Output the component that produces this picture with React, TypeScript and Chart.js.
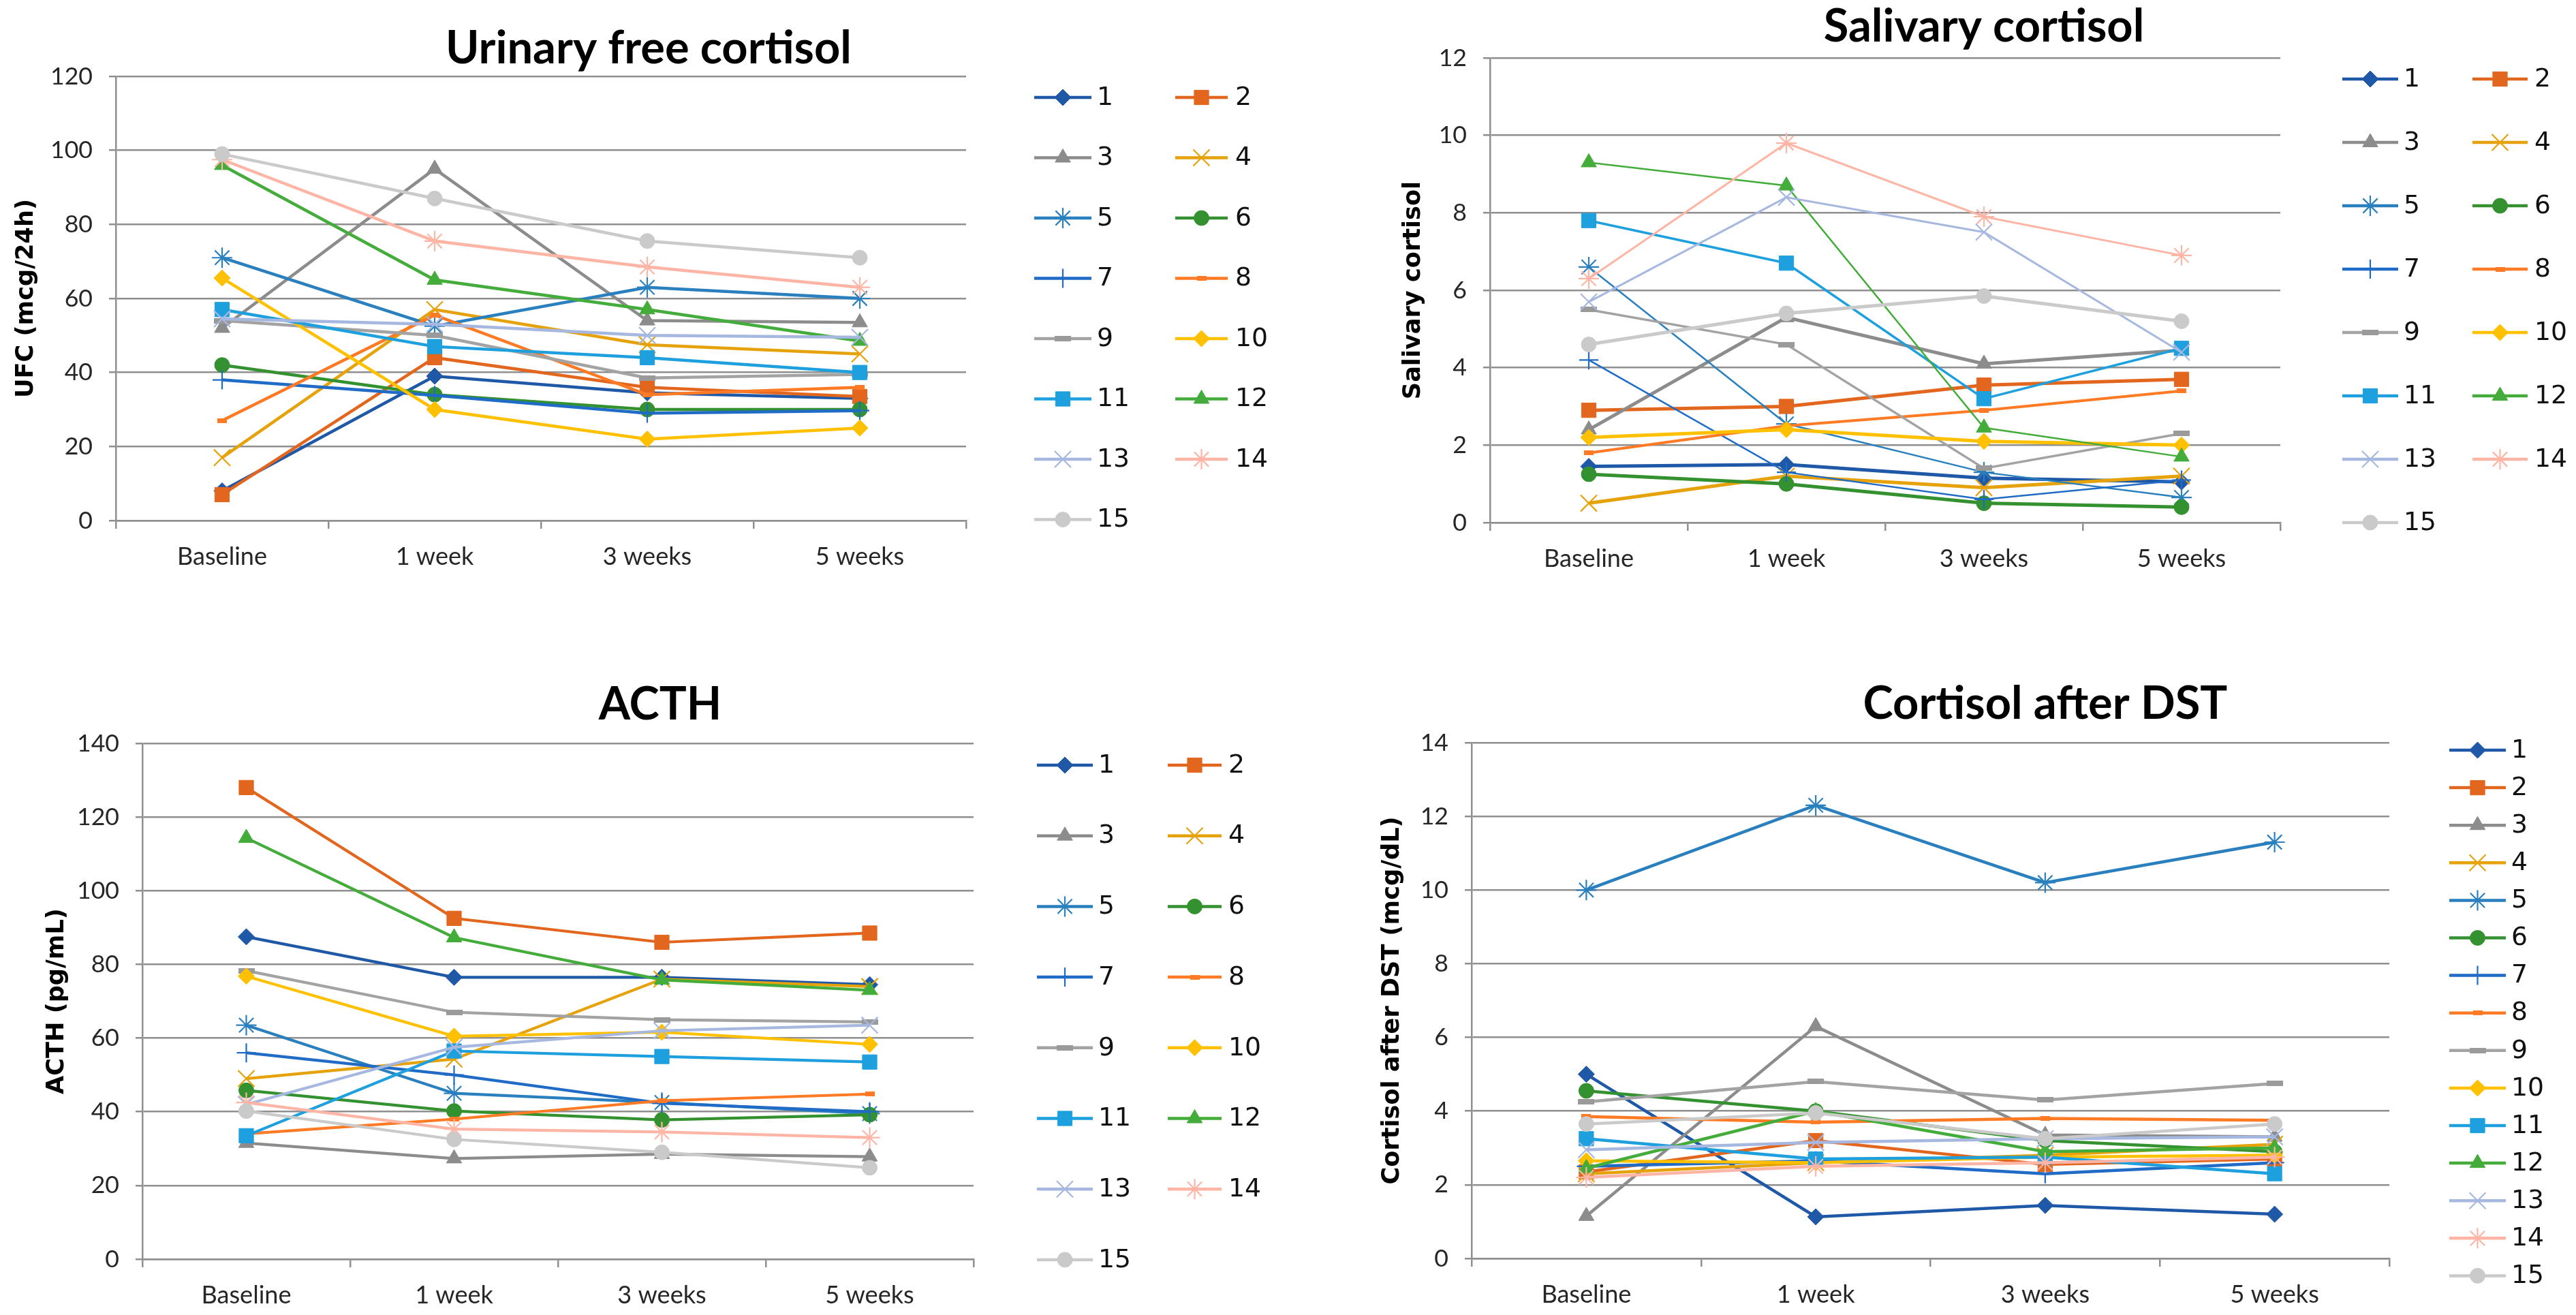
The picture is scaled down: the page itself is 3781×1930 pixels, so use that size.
import React, { useEffect, useRef } from 'react';
import { Chart, registerables } from 'chart.js';
import { drawPoint } from 'chart.js/helpers';

Chart.register(...registerables);

// ---------------- data ----------------
const categories = ['Baseline', '1 week', '3 weeks', '5 weeks'];
const patients = ['1', '2', '3', '4', '5', '6', '7', '8', '9', '10', '11', '12', '13', '14', '15'];

// Urinary free cortisol (mcg/24h), one row per patient
const ufcValues: number[][] = [
  [8, 39, 34.5, 33],
  [7, 44, 36, 33.5],
  [52, 95, 54, 53.5],
  [17, 57, 47.5, 45],
  [71, 52.5, 63, 60],
  [42, 34, 30, 30],
  [38, 33.8, 29, 29.7],
  [27, 55.5, 34, 36],
  [54, 50, 38.5, 39.5],
  [65.5, 30, 22, 25],
  [57, 47, 44, 40],
  [96, 65, 57, 48.5],
  [54.5, 53, 50, 49.5],
  [97.5, 75.5, 68.5, 63],
  [99, 87, 75.5, 71],
];

// Salivary cortisol
const salivaryValues: number[][] = [
  [1.45, 1.5, 1.15, 1.05],
  [2.9, 3.0, 3.55, 3.7],
  [2.4, 5.3, 4.1, 4.45],
  [0.5, 1.2, 0.9, 1.2],
  [6.6, 2.55, 1.3, 0.65],
  [1.25, 1.0, 0.5, 0.4],
  [4.2, 1.3, 0.6, 1.1],
  [1.8, 2.5, 2.9, 3.4],
  [5.5, 4.6, 1.4, 2.3],
  [2.2, 2.4, 2.1, 2.0],
  [7.8, 6.7, 3.2, 4.5],
  [9.3, 8.7, 2.45, 1.7],
  [5.7, 8.4, 7.5, 4.4],
  [6.3, 9.8, 7.9, 6.9],
  [4.6, 5.4, 5.85, 5.2],
];

// ACTH (pg/mL)
const acthValues: number[][] = [
  [87.5, 76.5, 76.5, 74.5],
  [128, 92.5, 86, 88.5],
  [31.5, 27.3, 28.5, 27.8],
  [49, 54.3, 76, 74],
  [63.5, 45, 42.5, 39.5],
  [45.8, 40.2, 37.8, 39.2],
  [56, 50, 42.3, 40],
  [34, 38, 43, 44.8],
  [78.3, 67, 65, 64.4],
  [76.8, 60.5, 61.6, 58.3],
  [33.5, 56.5, 55, 53.5],
  [114.3, 87.3, 75.8, 73],
  [42, 57.5, 62, 63.5],
  [42.5, 35.3, 34.5, 33],
  [40.2, 32.5, 29, 24.8],
];

// Cortisol after DST (mcg/dL)
const dstValues: number[][] = [
  [5.0, 1.13, 1.44, 1.2],
  [2.35, 3.2, 2.55, 2.7],
  [1.15, 6.3, 3.35, 3.3],
  [2.3, 2.6, 2.8, 3.1],
  [10.0, 12.3, 10.2, 11.3],
  [4.55, 4.0, 3.2, 2.9],
  [2.5, 2.65, 2.3, 2.6],
  [3.85, 3.7, 3.8, 3.75],
  [4.25, 4.8, 4.3, 4.75],
  [2.65, 2.6, 2.75, 2.8],
  [3.25, 2.7, 2.75, 2.3],
  [2.45, 4.0, 2.9, 3.0],
  [2.95, 3.15, 3.25, 3.3],
  [2.2, 2.5, 2.6, 2.75],
  [3.65, 3.95, 3.25, 3.65],
];

const ufcTicks = [0, 20, 40, 60, 80, 100, 120];
const salivaryTicks = [0, 2, 4, 6, 8, 10, 12];
const acthTicks = [0, 20, 40, 60, 80, 100, 120, 140];
const dstTicks = [0, 2, 4, 6, 8, 10, 12, 14];

// ---------------- styles ----------------
const seriesColors = [
  '#1E58A6', '#E2661E', '#8C8C8C', '#E6A20A', '#2A80BF',
  '#34912F', '#1F6BC6', '#FF7A24', '#A3A3A3', '#FFC000',
  '#1EA0DE', '#43AC3A', '#A6B7E0', '#FFB5A5', '#CACACA',
];
const markerKinds = [
  'rectRot', 'rect', 'triangle', 'crossRot', 'star',
  'circle', 'cross', 'dashS', 'dash', 'rectRot',
  'rect', 'triangle', 'crossRot', 'star', 'circle',
];
const markerRadius: Record<string, number> = {
  rectRot: 12, rect: 15, triangle: 13, crossRot: 17, star: 15, circle: 11, cross: 14, dash: 1, dashS: 1,
};
const salivaryWidths = [5, 5, 5, 5, 2.5, 5, 2.5, 4, 3.5, 5, 3.5, 2.5, 3, 3, 5];

const GRID = '#8f8f8f';
const TICK_COLOR = '#262626';

type Spec = {
  title: string;
  yTitle: string;
  values: number[][];
  ticks: number[];
  quad: { x: number; y: number; w: number; h: number };
  area: { l: number; t: number; r: number; b: number }; // page coords
  titleCx: number;
  titleBase: number;
  yTitleX: number;
  legend: { cols: { x1: number; x2: number; tx: number }[]; y0: number; step: number };
  widths: number[];
};

const specs: Spec[] = [
  {
    title: 'Urinary free cortisol',
    yTitle: 'UFC (mcg/24h)',
    values: ufcValues,
    ticks: ufcTicks,
    quad: { x: 0, y: 0, w: 1900, h: 960 },
    area: { l: 170, t: 112, r: 1418, b: 764 },
    titleCx: 952,
    titleBase: 93,
    yTitleX: 39,
    legend: { cols: [{ x1: 1518, x2: 1602, tx: 1610 }, { x1: 1725, x2: 1802, tx: 1813 }], y0: 143, step: 88.5 },
    widths: patients.map(() => 4.5),
  },
  {
    title: 'Salivary cortisol',
    yTitle: 'Salivary cortisol',
    values: salivaryValues,
    ticks: salivaryTicks,
    quad: { x: 1900, y: 0, w: 1881, h: 960 },
    area: { l: 2187, t: 85, r: 3347, b: 767 },
    titleCx: 2912,
    titleBase: 61,
    yTitleX: 2075,
    legend: { cols: [{ x1: 3438, x2: 3520, tx: 3528 }, { x1: 3629, x2: 3710, tx: 3720 }], y0: 116, step: 93 },
    widths: salivaryWidths,
  },
  {
    title: 'ACTH',
    yTitle: 'ACTH (pg/mL)',
    values: acthValues,
    ticks: acthTicks,
    quad: { x: 0, y: 960, w: 1900, h: 970 },
    area: { l: 209, t: 1091, r: 1429, b: 1848 },
    titleCx: 969,
    titleBase: 1056,
    yTitleX: 84,
    legend: { cols: [{ x1: 1522, x2: 1604, tx: 1612 }, { x1: 1714, x2: 1793, tx: 1803 }], y0: 1123, step: 103.7 },
    widths: patients.map(() => 4.2),
  },
  {
    title: 'Cortisol after DST',
    yTitle: 'Cortisol after DST (mcg/dL)',
    values: dstValues,
    ticks: dstTicks,
    quad: { x: 1900, y: 960, w: 1881, h: 970 },
    area: { l: 2160, t: 1090, r: 3507, b: 1847 },
    titleCx: 3002,
    titleBase: 1055,
    yTitleX: 2044,
    legend: { cols: [{ x1: 3595, x2: 3678, tx: 3686 }], y0: 1101, step: 55.1 },
    widths: patients.map(() => 4.5),
  },
];

// ---------------- helpers ----------------
function fitSize(text: string, target: number, font: (px: number) => string): number {
  const c = document.createElement('canvas').getContext('2d')!;
  c.font = font(100);
  const w = c.measureText(text).width;
  return (100 * target) / w;
}

function makeDash(w: number, h: number, color: string): HTMLCanvasElement {
  const c = document.createElement('canvas');
  c.width = w;
  c.height = h;
  const x = c.getContext('2d')!;
  x.fillStyle = color;
  x.fillRect(0, 0, w, h);
  return c;
}

function buildConfig(spec: Spec, sizes: any): any {
  const { quad, area } = spec;
  const L = area.l - quad.x;
  const T = area.t - quad.y;
  const R = area.r - quad.x;
  const B = area.b - quad.y;

  const datasets = spec.values.map((vals, i) => {
    const kind = markerKinds[i];
    const color = seriesColors[i];
    let pointStyle: any = kind;
    const radius = markerRadius[kind];
    if (kind === 'dash') pointStyle = makeDash(24, 8, '#9a9a9a');
    if (kind === 'dashS') pointStyle = makeDash(14, 7, color);
    const thin = kind === 'crossRot' || kind === 'star' || kind === 'cross';
    return {
      label: patients[i],
      data: vals,
      borderColor: color,
      backgroundColor: color,
      borderWidth: spec.widths[i],
      pointStyle,
      pointRadius: radius,
      pointHoverRadius: radius,
      pointBackgroundColor: color,
      pointBorderColor: color,
      pointBorderWidth: thin ? 2.2 : 1,
      tension: 0,
      fill: false,
      clip: false,
      order: patients.length - i,
    };
  });

  const decor = {
    id: 'decor',
    afterDraw(chart: any) {
      const ctx: CanvasRenderingContext2D = chart.ctx;
      ctx.save();
      ctx.font = `bold ${sizes.title}px Lato`;
      ctx.fillStyle = '#000';
      ctx.textAlign = 'center';
      ctx.textBaseline = 'alphabetic';
      ctx.fillText(spec.title, spec.titleCx - quad.x, spec.titleBase - quad.y);

      const lg = spec.legend;
      chart.data.datasets.forEach((ds: any, i: number) => {
        const col = lg.cols[i % lg.cols.length];
        const row = Math.floor(i / lg.cols.length);
        const y = lg.y0 + row * lg.step - quad.y;
        const x1 = col.x1 - quad.x;
        const x2 = col.x2 - quad.x;
        ctx.strokeStyle = ds.borderColor;
        ctx.lineWidth = 4.5;
        ctx.lineCap = 'butt';
        ctx.beginPath();
        ctx.moveTo(x1, y);
        ctx.lineTo(x2, y);
        ctx.stroke();
        ctx.fillStyle = ds.pointBackgroundColor;
        ctx.strokeStyle = ds.pointBorderColor;
        ctx.lineWidth = ds.pointBorderWidth;
        drawPoint(
          ctx,
          { pointStyle: ds.pointStyle, radius: ds.pointRadius, rotation: 0, borderWidth: ds.pointBorderWidth } as any,
          (x1 + x2) / 2,
          y
        );
        ctx.fillStyle = '#111';
        ctx.font = `${sizes.legend}px "DejaVu Sans"`;
        ctx.textAlign = 'left';
        ctx.textBaseline = 'middle';
        ctx.fillText(ds.label, col.tx - quad.x, y + 1);
      });
      ctx.restore();
    },
  };

  const t = spec.ticks;
  return {
    type: 'line',
    data: { labels: categories, datasets },
    plugins: [decor],
    options: {
      animation: false,
      responsive: false,
      devicePixelRatio: 1,
      events: [],
      layout: { autoPadding: false, padding: { left: 0, top: T, right: quad.w - R, bottom: 0 } },
      plugins: { legend: { display: false }, title: { display: false }, tooltip: { enabled: false } },
      scales: {
        x: {
          type: 'category',
          offset: true,
          afterFit: (s: any) => {
            s.height = quad.h - B;
          },
          grid: { offset: true, drawOnChartArea: false, drawTicks: true, tickLength: 12, color: GRID, lineWidth: 2.5 },
          border: { display: true, color: GRID, width: 2.5 },
          ticks: {
            padding: 20,
            maxRotation: 0,
            autoSkip: false,
            color: TICK_COLOR,
            font: { family: 'Lato', size: sizes.xtick },
          },
        },
        y: {
          type: 'linear',
          min: t[0],
          max: t[t.length - 1],
          afterFit: (s: any) => {
            s.width = L;
          },
          grid: { color: GRID, lineWidth: 2.5, drawTicks: true, tickLength: 10 },
          border: { display: true, color: GRID, width: 2.5 },
          ticks: {
            stepSize: t[1] - t[0],
            padding: 24,
            color: TICK_COLOR,
            font: { family: 'Lato', size: sizes.ytick },
          },
          title: {
            display: true,
            text: spec.yTitle,
            color: '#000',
            font: { family: 'DejaVu Sans', weight: 'bold', size: sizes.axisTitle, lineHeight: 1.2 },
            padding: { top: spec.yTitleX - quad.x - (sizes.axisTitle * 1.2) / 2, bottom: 0 },
          },
        },
      },
    },
  };
}

function Panel({ spec }: { spec: Spec }) {
  const ref = useRef<HTMLCanvasElement>(null);
  useEffect(() => {
    const sizes = {
      title: fitSize('Urinary free cortisol', 596, (p) => `bold ${p}px Lato`),
      xtick: fitSize('Baseline', 132, (p) => `${p}px Lato`),
      ytick: fitSize('120', 62, (p) => `${p}px Lato`),
      legend: fitSize('11', 48, (p) => `${p}px "DejaVu Sans"`),
      axisTitle: fitSize('UFC (mcg/24h)', 292, (p) => `bold ${p}px "DejaVu Sans"`),
    };
    const chart = new Chart(ref.current!, buildConfig(spec, sizes));
    return () => chart.destroy();
  }, [spec]);
  const q = spec.quad;
  return (
    <canvas
      ref={ref}
      width={q.w}
      height={q.h}
      style={{ position: 'absolute', left: q.x, top: q.y, width: q.w, height: q.h }}
    />
  );
}

export default function App() {
  return (
    <div
      style={{
        position: 'fixed',
        left: 0,
        top: 0,
        width: 3781,
        height: 1930,
        background: '#ffffff',
        overflow: 'hidden',
      }}
    >
      {specs.map((s, i) => (
        <Panel key={i} spec={s} />
      ))}
    </div>
  );
}
